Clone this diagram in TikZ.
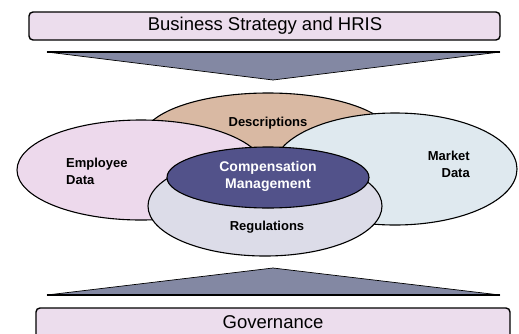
\documentclass[tikz,border=0pt]{standalone}
\usepackage{fontspec}
\setmainfont{Liberation Sans}
\usetikzlibrary{shapes.geometric}
\definecolor{barfill}{HTML}{ECDDED}
\definecolor{wedge}{HTML}{8388A3}
\definecolor{descfill}{HTML}{D9B9A3}
\definecolor{empfill}{HTML}{EDD9EC}
\definecolor{mktfill}{HTML}{DFE9EF}
\definecolor{regfill}{HTML}{DCDCE8}
\definecolor{compfill}{HTML}{52528A}
\tikzset{
  bar/.style={draw=black, line width=1.4pt, fill=barfill, rounded corners=4pt},
  bartext/.style={font=\fontsize{18.5}{21}\selectfont, inner sep=0pt},
  wedgeshape/.style={fill=wedge, draw=black, line width=0.7pt, line join=miter},
  baseline/.style={draw=black, line width=2.2pt},
  area/.style={ellipse, draw=black, line width=1.1pt, inner sep=0pt},
  arealabel/.style={font=\bfseries\fontsize{13}{17}\selectfont, inner sep=0pt, align=left},
}
\begin{document}
\begin{tikzpicture}[x=1pt, y=-1pt]
\useasboundingbox (0,0) rectangle (519,333);

% top bar and downward wedge
\draw[bar] (29,12) rectangle (500,40);
\node[bartext] (strategy) at (265,26) {Business Strategy and HRIS};
\draw[wedgeshape] (47,52) -- (500,52) -- (273,80) -- cycle;
\draw[baseline] (47,52) -- (500,52);

% bottom bar and upward wedge
\draw[bar] (36,308) rectangle (510,348);
\node[bartext] (governance) at (273,322) {Governance};
\draw[wedgeshape] (47,295) -- (500,295) -- (273,268) -- cycle;
\draw[baseline] (47,295) -- (500,295);

% overlapping areas
\node[area, fill=descfill, minimum width=250pt, minimum height=90pt] (desc) at (268,138) {};
\node[area, fill=empfill, minimum width=248pt, minimum height=100pt] (emp) at (141,170) {};
\node[area, fill=mktfill, minimum width=244pt, minimum height=112pt] (mkt) at (395,169) {};
\node[area, fill=regfill, minimum width=234pt, minimum height=100pt] (reg) at (265,206) {};
\node[area, fill=compfill, minimum width=202pt, minimum height=61pt] (comp) at (268,177.5) {};

% labels
\node[arealabel] (desclabel) at (268,123) {Descriptions};
\node[arealabel, anchor=west] (emplabel) at (66,171) {Employee\\Data};
\node[arealabel, anchor=east, align=right] (mktlabel) at (470,164) {Market\\Data};
\node[arealabel] (reglabel) at (267,227) {Regulations};
\node[font=\bfseries\fontsize{14}{17.5}\selectfont, text=white, inner sep=0pt, align=center] (complabel) at (268,176.5) {Compensation\\Management};
\end{tikzpicture}
\end{document}
